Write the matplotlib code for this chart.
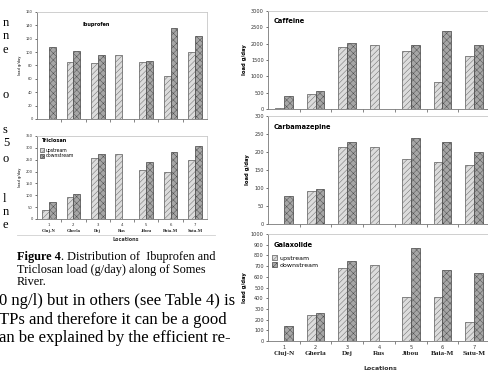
import numpy as np
import matplotlib
matplotlib.use("Agg")
import matplotlib.pyplot as plt

# data (nan = no bar)
locations = ["Cluj-N", "Gherla", "Dej", "Rus", "Jibou", "Baia-M", "Satu-M"]
loc_numbers = ["1", "2", "3", "4", "5", "6", "7"]
nan = np.nan

ibu_up = [nan, 85, 84, 96, 85, 64, 100]
ibu_down = [108, 102, 95, nan, 87, 136, 124]
tri_up = [40, 92, 257, 272, 205, 200, 248]
tri_down = [73, 104, 272, nan, 242, 283, 306]

caf_up = [25, 470, 1890, 1950, 1780, 820, 1620]
caf_down = [390, 560, 2010, nan, 1950, 2390, 1950]
carb_up = [nan, 91, 213, 213, 181, 172, 163]
carb_down = [77, 96, 227, nan, 239, 229, 199]
gal_up = [nan, 245, 685, 710, 410, 415, 175]
gal_down = [140, 265, 745, nan, 865, 665, 635]

W, H = 489, 371
plt.rcParams["hatch.linewidth"] = 0.3

fig = plt.figure(figsize=(W / 100, H / 100), dpi=100)
fig.patch.set_facecolor("white")
renderer = fig.canvas.get_renderer()


def box(l, t, r, b):
    return [l / W, 1 - b / H, (r - l) / W, (b - t) / H]


def draw_bars(ax, up, down, ymax, ystep, tick_fs):
    x = np.arange(len(up))
    w = 0.28
    up = np.array(up, dtype=float)
    down = np.array(down, dtype=float)
    m = ~np.isnan(up)
    ax.bar(x[m] - w / 2, up[m], w, color="#dcdcdc", edgecolor="#5a5a5a",
           hatch="//////", linewidth=0.5, label="upstream", zorder=2)
    m = ~np.isnan(down)
    ax.bar(x[m] + w / 2, down[m], w, color="#a6a6a6", edgecolor="#444444",
           hatch="xxxxx", linewidth=0.5, label="downstream", zorder=2)
    ax.set_xlim(-0.5, len(up) - 0.5)
    ax.set_ylim(0, ymax)
    ax.set_yticks(np.arange(0, ymax + 1, ystep))
    ax.tick_params(axis="y", labelsize=tick_fs, length=1.5, width=0.5,
                   pad=1.5, colors="#333333")
    ax.set_xticks(np.arange(0.5, len(up) - 1, 1))
    ax.set_xticklabels([])
    ax.tick_params(axis="x", length=2, width=0.5, colors="#555555")
    for s in ["left", "bottom"]:
        ax.spines[s].set_color("#777777")
        ax.spines[s].set_linewidth(0.6)
    for s in ["top", "right"]:
        ax.spines[s].set_color("#c8c8c8")
        ax.spines[s].set_linewidth(0.6)


def loc_labels(ax, y_num, y_name, num_fs, name_fs):
    for i, (n, name) in enumerate(zip(loc_numbers, locations)):
        ax.text(i, y_num, n, transform=ax.get_xaxis_transform(), ha="center",
                va="center", fontsize=num_fs, color="#333333")
        ax.text(i, y_name, name, transform=ax.get_xaxis_transform(),
                ha="center", va="center", fontsize=name_fs,
                fontweight="bold", family="Liberation Serif", color="#222222")


# ---- left figure: Ibuprofen / Triclosan
ax1 = fig.add_axes(box(37, 12, 207, 119))
draw_bars(ax1, ibu_up, ibu_down, 160, 20, 2.6)
ax1.text(0.27, 0.88, "Ibuprofen", transform=ax1.transAxes, fontsize=3.6,
         fontweight="bold", va="center")
ax1.set_ylabel("load g/day", fontsize=2.6, labelpad=3)

ax2 = fig.add_axes(box(37, 136, 207, 219))
draw_bars(ax2, tri_up, tri_down, 350, 50, 2.6)
ax2.text(0.03, 0.94, "Triclosan", transform=ax2.transAxes, fontsize=3.6,
         fontweight="bold", va="center")
ax2.legend(loc="upper left", bbox_to_anchor=(0.0, 0.9), fontsize=3.3,
           frameon=False, handlelength=0.8, handleheight=0.8,
           handletextpad=0.4, labelspacing=0.2, borderpad=0.2)
ax2.set_ylabel("load g/day", fontsize=2.6, labelpad=3)
loc_labels(ax2, -0.07, -0.14, 2.8, 3.3)
fig.text(126 / W, 1 - 240 / H, "Locations", fontsize=3.5, fontweight="bold",
         ha="center", va="center", color="#333333")
fig.add_artist(plt.Line2D([17 / W, 215 / W], [1 - 235 / H, 1 - 235 / H],
                          color="#d0d0d0", lw=0.6))

# ---- right figure: Caffeine / Carbamazepine / Galaxolide
panels = [
    (caf_up, caf_down, 3000, 500, "Caffeine", 11, 109),
    (carb_up, carb_down, 300, 50, "Carbamazepine", 116, 224),
    (gal_up, gal_down, 1000, 100, "Galaxolide", 234, 341),
]
right_axes = []
for up, down, ymax, step, title, top, bottom in panels:
    ax = fig.add_axes(box(268, top, 490, bottom))
    draw_bars(ax, up, down, ymax, step, 3.6)
    ax.text(0.025, 0.9, title, transform=ax.transAxes, fontsize=4.8,
            fontweight="bold", va="center")
    ax.set_ylabel("load g/day", fontsize=3.8, fontweight="bold", labelpad=3)
    right_axes.append(ax)

right_axes[2].legend(loc="upper left", bbox_to_anchor=(0.0, 0.84),
                     fontsize=4.5, frameon=False, handlelength=0.7,
                     handleheight=0.7, handletextpad=0.5, labelspacing=0.25,
                     borderpad=0.2)
loc_labels(right_axes[2], -0.06, -0.12, 3.6, 5.2)
fig.text(380 / W, 1 - 369 / H, "Locations", fontsize=4.5, fontweight="bold",
         ha="center", va="center", color="#333333")

# ---- page text around the figure
serif = "Liberation Serif"
cap_fs = 8.8
t = fig.text(17 / W, 1 - 257 / H, "Figure 4", fontsize=cap_fs, family=serif,
             fontweight="bold", va="center")
bb = t.get_window_extent(renderer=renderer)
fig.text(bb.x1 / W, 1 - 257 / H, ". Distribution of  Ibuprofen and",
         fontsize=cap_fs, family=serif, va="center")
fig.text(17 / W, 1 - 269.5 / H, "Triclosan load (g/day) along of Somes",
         fontsize=cap_fs, family=serif, va="center")
fig.text(17 / W, 1 - 282 / H, "River.", fontsize=cap_fs, family=serif,
         va="center")

# body text of the page, cut by the left edge of the crop
body = ["0 ng/l) but in others (see Table 4) is",
        "TPs and therefore it can be a good",
        "an be explained by the efficient re-"]
for line, y in zip(body, [301, 319.5, 338]):
    fig.text(-1 / W, 1 - y / H, line, fontsize=12, family=serif,
             va="center")

margin_chars = [("n", 23), ("n", 36), ("e", 50), ("o", 95), ("s", 130),
                ("5", 143), ("o", 159), ("l", 199), ("n", 212), ("e", 225)]
for ch, y in margin_chars:
    fig.text(3 / W, 1 - y / H, ch, fontsize=9, family=serif, va="center")

fig.savefig("out.png", dpi=100, facecolor="white")
